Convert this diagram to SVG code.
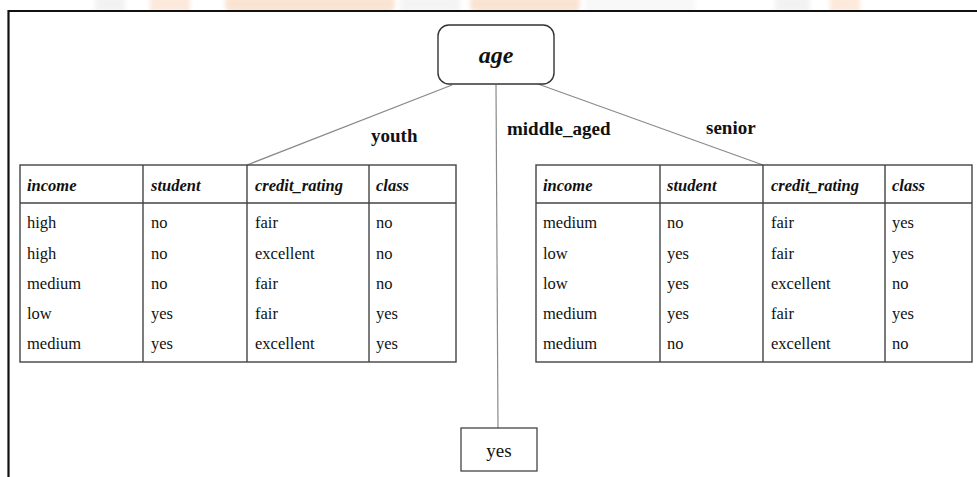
<svg xmlns="http://www.w3.org/2000/svg" width="977" height="477" viewBox="0 0 977 477">
  <style>
    .hd { font-family: "Liberation Serif", "Times New Roman", serif; font-size: 16.5px; font-weight: bold; font-style: italic; fill: #111; }
    .td { font-family: "Liberation Serif", "Times New Roman", serif; font-size: 16.5px; fill: #111; }
    .lbl { font-family: "Liberation Serif", "Times New Roman", serif; font-size: 19px; font-weight: bold; fill: #111; }
    .grid { stroke: #444; stroke-width: 1.4; fill: none; }
    .edge { stroke: #8a8a8a; stroke-width: 1.2; fill: none; }
  </style>
  <defs>
    <filter id="soft" x="-10%" y="-50%" width="120%" height="200%">
      <feGaussianBlur stdDeviation="2"/>
    </filter>
    <clipPath id="band"><rect x="0" y="0" width="977" height="10"/></clipPath>
  </defs>

  <rect width="977" height="477" fill="#fff"/>

  <!-- faint seal band along the top edge -->
  <g clip-path="url(#band)" filter="url(#soft)" opacity="0.22">
    <rect x="95" y="-4" width="30" height="16" fill="#c8c8c8"/>
    <rect x="150" y="-4" width="40" height="16" fill="#f3a060"/>
    <rect x="225" y="-4" width="170" height="16" rx="6" fill="#e8843c"/>
    <rect x="400" y="-4" width="60" height="16" fill="#d0d0d0"/>
    <rect x="470" y="-4" width="110" height="16" rx="6" fill="#e8843c"/>
    <rect x="585" y="-4" width="110" height="16" fill="#e0e0e0"/>
    <rect x="775" y="-4" width="35" height="16" fill="#c8c8c8"/>
    <rect x="830" y="-4" width="30" height="16" fill="#f3a060"/>
  </g>

  <!-- outer frame -->
  <path d="M8.5 477 V11 H977" stroke="#111" stroke-width="2.2" fill="none"/>

  <!-- connectors -->
  <g id="connectors">
    <line class="edge" x1="452" y1="85" x2="247" y2="165"/>
    <line class="edge" x1="496" y1="85" x2="498" y2="428"/>
    <line class="edge" x1="538" y1="84" x2="763" y2="165"/>
  </g>

  <!-- edge labels -->
  <g id="labels">
    <text class="lbl" x="371" y="142">youth</text>
    <text class="lbl" x="507" y="135">middle_aged</text>
    <text class="lbl" x="706" y="134">senior</text>
  </g>

  <!-- root test node -->
  <g id="node-age">
    <rect x="438" y="25" width="116" height="59" rx="11" fill="#fff" stroke="#333" stroke-width="1.4"/>
    <text x="496" y="63" text-anchor="middle" font-family="Liberation Serif, Times New Roman, serif" font-size="24" font-weight="bold" font-style="italic" fill="#111">age</text>
  </g>

  <!-- youth partition -->
  <g id="node-youth">
    <rect class="grid" x="20" y="165" width="436" height="197"/>
    <line class="grid" x1="20" y1="203" x2="456" y2="203"/>
    <line class="grid" x1="143" y1="165" x2="143" y2="362"/>
    <line class="grid" x1="247" y1="165" x2="247" y2="362"/>
    <line class="grid" x1="369" y1="165" x2="369" y2="362"/>
    <text class="hd" x="27" y="191">income</text>
    <text class="hd" x="151" y="191">student</text>
    <text class="hd" x="255" y="191">credit_rating</text>
    <text class="hd" x="376" y="191">class</text>
    <g class="td">
      <text x="27" y="228">high</text><text x="151" y="228">no</text><text x="255" y="228">fair</text><text x="376" y="228">no</text>
      <text x="27" y="259">high</text><text x="151" y="259">no</text><text x="255" y="259">excellent</text><text x="376" y="259">no</text>
      <text x="27" y="289">medium</text><text x="151" y="289">no</text><text x="255" y="289">fair</text><text x="376" y="289">no</text>
      <text x="27" y="319">low</text><text x="151" y="319">yes</text><text x="255" y="319">fair</text><text x="376" y="319">yes</text>
      <text x="27" y="349">medium</text><text x="151" y="349">yes</text><text x="255" y="349">excellent</text><text x="376" y="349">yes</text>
    </g>
  </g>

  <!-- middle_aged leaf -->
  <g id="node-yes">
    <rect x="461" y="428" width="76" height="43" fill="#fff" stroke="#444" stroke-width="1.3"/>
    <text x="499" y="457" text-anchor="middle" font-family="Liberation Serif, Times New Roman, serif" font-size="19" fill="#111">yes</text>
  </g>

  <!-- senior partition -->
  <g id="node-senior">
    <rect class="grid" x="536" y="165" width="436" height="197"/>
    <line class="grid" x1="536" y1="203" x2="972" y2="203"/>
    <line class="grid" x1="660" y1="165" x2="660" y2="362"/>
    <line class="grid" x1="763" y1="165" x2="763" y2="362"/>
    <line class="grid" x1="885" y1="165" x2="885" y2="362"/>
    <text class="hd" x="543" y="191">income</text>
    <text class="hd" x="667" y="191">student</text>
    <text class="hd" x="771" y="191">credit_rating</text>
    <text class="hd" x="892" y="191">class</text>
    <g class="td">
      <text x="543" y="228">medium</text><text x="667" y="228">no</text><text x="771" y="228">fair</text><text x="892" y="228">yes</text>
      <text x="543" y="259">low</text><text x="667" y="259">yes</text><text x="771" y="259">fair</text><text x="892" y="259">yes</text>
      <text x="543" y="289">low</text><text x="667" y="289">yes</text><text x="771" y="289">excellent</text><text x="892" y="289">no</text>
      <text x="543" y="319">medium</text><text x="667" y="319">yes</text><text x="771" y="319">fair</text><text x="892" y="319">yes</text>
      <text x="543" y="349">medium</text><text x="667" y="349">no</text><text x="771" y="349">excellent</text><text x="892" y="349">no</text>
    </g>
  </g>
</svg>
